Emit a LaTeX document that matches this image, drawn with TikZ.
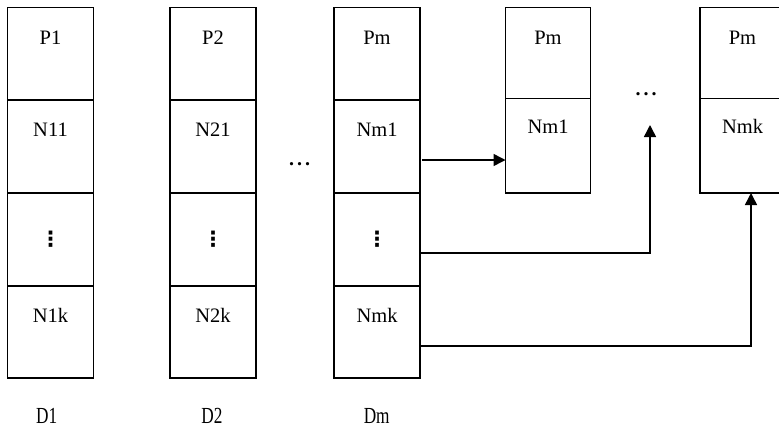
\documentclass[tikz,border=0pt]{standalone}
\usepackage{fontspec}
\usepackage{graphicx}
\setmainfont{Liberation Serif}
\newfontfamily\dejavu{DejaVu Sans}
\usetikzlibrary{arrows.meta,calc}
\newcommand{\myhdots}{\textbf{.}\kern3pt\textbf{.}\kern3pt\textbf{.}}
\tikzset{
  cell/.style={draw,line width=1.5pt,minimum width=86pt,inner sep=0pt,outer sep=0pt,anchor=north west},
  lbl/.style={anchor=base,font=\fontsize{20.5}{24}\selectfont,inner sep=0pt},
  vd/.style={font=\dejavu\bfseries\fontsize{21}{26}\selectfont,inner sep=0pt},
  hd/.style={anchor=base,font=\fontsize{20}{24}\selectfont,inner sep=0pt},
  dlbl/.style={font=\fontsize{23}{26}\selectfont,inner sep=0pt},
  conn/.style={line width=1.5pt,-{Triangle[length=12pt,width=12pt]}}
}
\begin{document}
\begin{tikzpicture}[x=1pt,y=-1pt]
\useasboundingbox (0,0) rectangle (779,429);
\clip (0,0) rectangle (779,429);
\fill[white] (0,0) rectangle (779,429);
% columns
\foreach \n/\x in {1/7.5,2/170,3/334}{
  \node[cell,minimum height=92.5pt] (c\n p) at (\x,7.5) {};
  \node[cell,minimum height=93pt] (c\n a) at (\x,100) {};
  \node[cell,minimum height=93pt] (c\n b) at (\x,193) {};
  \node[cell,minimum height=92pt] (c\n k) at (\x,286) {};
}
% boxes on the right
\node[cell,minimum width=85pt,minimum height=91pt] (b4p) at (505.5,7.5) {};
\node[cell,minimum width=85pt,minimum height=94.5pt] (b4n) at (505.5,98.5) {};
\node[cell,minimum width=85pt,minimum height=91pt] (b5p) at (700,7.5) {};
\node[cell,minimum width=85pt,minimum height=94.5pt] (b5n) at (700,98.5) {};
% labels
\node[lbl] (t1p) at ([yshift=-36.5pt]c1p.north) {P1};
\node[lbl] (t1a) at ([yshift=-36.5pt]c1a.north) {N11};
\node[lbl] (t1k) at ([yshift=-36.5pt]c1k.north) {N1k};
\node[lbl] (t2p) at ([yshift=-36.5pt]c2p.north) {P2};
\node[lbl] (t2a) at ([yshift=-36.5pt]c2a.north) {N21};
\node[lbl] (t2k) at ([yshift=-36.5pt]c2k.north) {N2k};
\node[lbl] (t3p) at ([yshift=-36.5pt]c3p.north) {Pm};
\node[lbl] (t3a) at ([yshift=-36.5pt]c3a.north) {Nm1};
\node[lbl] (t3k) at ([yshift=-36.5pt]c3k.north) {Nmk};
\node[lbl] (t4p) at ([yshift=-36.5pt]b4p.north) {Pm};
\node[lbl] (t4n) at ([yshift=-35pt]b4n.north) {Nm1};
\node[lbl] (t5p) at ([yshift=-36.5pt]b5p.north) {Pm};
\node[lbl] (t5n) at ([yshift=-35pt]b5n.north) {Nmk};
\node[vd] (v1) at (c1b.center) {⋮};
\node[vd] (v2) at (c2b.center) {⋮};
\node[vd] (v3) at (c3b.center) {⋮};
\node[hd] (h1) at (299.5,165.5) {\myhdots};
\node[hd] (h2) at (646,95) {\myhdots};
% bottom labels
\node[dlbl] (d1) at (46.7,416) {\scalebox{0.75}[1]{D1}};
\node[dlbl] (d2) at (212,416) {\scalebox{0.75}[1]{D2}};
\node[dlbl] (d3) at (376.7,416) {\scalebox{0.75}[1]{Dm}};
% connectors
\coordinate (tipA) at (650,125);
\draw[conn] ([xshift=2pt,yshift=-13.5pt]c3a.east) -- ([yshift=-13.5pt]c3a.east -| b4n.west);
\draw[conn] ([xshift=1pt,yshift=-13.5pt]c3b.east) -| (tipA);
\draw[conn] ([xshift=1pt,yshift=-14pt]c3k.east) -| ([xshift=8.5pt]b5n.south);
\end{tikzpicture}
\end{document}
